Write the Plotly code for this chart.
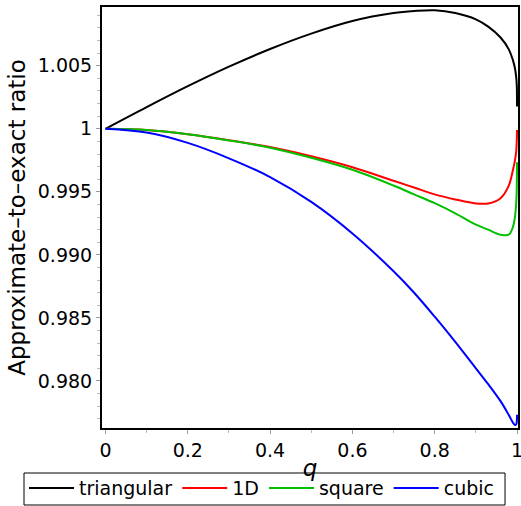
import plotly.graph_objects as go

q = [0, 0.1, 0.2, 0.3, 0.4, 0.5, 0.6, 0.7, 0.75, 0.8, 0.85, 0.9, 0.93, 0.96,
     0.98, 0.99, 0.995, 0.998, 0.9995, 1.0]

triangular = [1.0, 1.00172, 1.00338, 1.00493, 1.00633, 1.00755, 1.00855, 1.00918,
              1.00934, 1.0094, 1.00918, 1.00868, 1.0081, 1.00724, 1.0063,
              1.00545, 1.0048, 1.0041, 1.0034, 1.00176]
one_d = [1.0, 0.9999, 0.99957, 0.9991, 0.99855, 0.99782, 0.99695, 0.99588,
         0.99534, 0.9948, 0.9944, 0.99408, 0.99408, 0.9945, 0.9955,
         0.99672, 0.9975, 0.9982, 0.9991, 0.9999]
square = [1.0, 0.9999, 0.99957, 0.99908, 0.9985, 0.9977, 0.99675, 0.9955,
          0.9948, 0.9941, 0.9933, 0.9924, 0.992, 0.9916, 0.9916,
          0.9922, 0.993, 0.9941, 0.9955, 0.99734]
cubic = [1.0, 0.9997, 0.99888, 0.99766, 0.99617, 0.9942, 0.9917, 0.9887,
         0.987, 0.9851, 0.9831, 0.981, 0.97975, 0.9784, 0.9773,
         0.9767, 0.9765, 0.97655, 0.9768, 0.97732]

series = [("triangular", triangular, "#000000"),
          ("1D", one_d, "#ff0000"),
          ("square", square, "#00c000"),
          ("cubic", cubic, "#0000ff")]

x_tickvals = [0, 0.2, 0.4, 0.6, 0.8, 1]
x_ticktext = ["0", "0.2", "0.4", "0.6", "0.8", "1"]
y_tickvals = [0.980, 0.985, 0.990, 0.995, 1.0, 1.005]
y_ticktext = ["0.980", "0.985", "0.990", "0.995", "1", "1.005"]

FONT = "DejaVu Sans"

fig = go.Figure()
for name, vals, col in series:
    fig.add_trace(go.Scatter(x=q, y=vals, mode="lines", name=name,
                             line=dict(color=col, width=2, shape="spline", smoothing=1.0)))

fig.update_layout(
    width=521, height=506,
    margin=dict(l=102, r=3, t=7, b=78, autoexpand=False),
    paper_bgcolor="white", plot_bgcolor="white",
    font=dict(family=FONT, size=19, color="black"),
    showlegend=True,
    legend=dict(orientation="h", x=-0.1875, xanchor="left",
                y=-0.0975, yanchor="top", bgcolor="rgba(0,0,0,0)",
                borderwidth=0, font=dict(size=19),
                itemwidth=45, tracegroupgap=0),
    shapes=[dict(type="rect", xref="paper", yref="paper",
                 x0=-0.1875, x1=0.9688, y0=-0.1829, y1=-0.1069,
                 line=dict(color="black", width=1), fillcolor="rgba(0,0,0,0)",
                 layer="above")],
)
fig.update_xaxes(
    range=[-0.0085, 1.0024], showgrid=False, zeroline=False,
    showline=True, linecolor="black", linewidth=2, mirror=True,
    tickvals=x_tickvals, ticktext=x_ticktext, ticks="outside", ticklen=4,
    tickcolor="#999999", tickfont=dict(size=19), ticklabeloverflow="allow",
    minor=dict(dtick=0.1, tick0=0, ticks="outside", ticklen=3, tickcolor="#bbbbbb"),
    title=dict(text="<i>q</i>", font=dict(size=23), standoff=0),
)
fig.update_yaxes(
    range=[0.97627, 1.00966], showgrid=False, zeroline=False,
    showline=True, linecolor="black", linewidth=2, mirror=True,
    tickvals=y_tickvals, ticktext=y_ticktext, ticks="outside", ticklen=4,
    tickcolor="#999999", tickfont=dict(size=19), ticklabeloverflow="allow",
    minor=dict(dtick=0.001, tick0=0.98, ticks="outside", ticklen=3, tickcolor="#bbbbbb"),
    title=dict(text="Approximate–to–exact ratio", font=dict(size=23), standoff=6),
)

fig.write_html("out.html")
